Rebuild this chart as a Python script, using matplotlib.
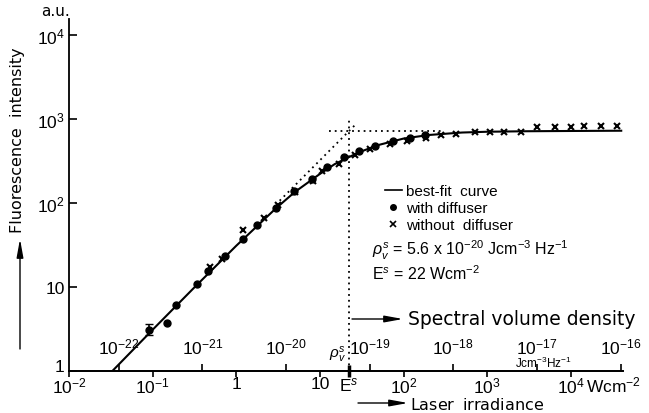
import numpy as np
import matplotlib
matplotlib.use('Agg')
import matplotlib.pyplot as plt
from matplotlib.lines import Line2D

plt.rcParams['font.family'] = ['Liberation Sans', 'DejaVu Sans']
plt.rcParams['mathtext.fontset'] = 'custom'
plt.rcParams['mathtext.rm'] = 'Liberation Sans'
plt.rcParams['mathtext.it'] = 'Liberation Sans:italic'
plt.rcParams['mathtext.bf'] = 'Liberation Sans:bold'

# saturation parameters
E_SAT = 22.0          # W cm^-2
RHO_SAT = 5.6e-20     # J cm^-3 Hz^-1
I_SAT = 710.0         # a.u., level of the horizontal asymptote

# with diffuser (filled circles)
e_with = [0.091, 0.15, 0.19, 0.338, 0.453, 0.724, 1.21, 1.75, 2.99, 4.95,
          8.06, 12.3, 19.3, 29.2, 45, 74.5, 120, 182]
i_with = [3.1, 3.7, 6.1, 10.9, 15.5, 23.4, 36.9, 54.5, 87.7, 138,
          191, 269, 353, 416, 472, 542, 599, 650]

# without diffuser (crosses)
e_without = [0.48, 0.674, 1.21, 2.15, 3.18, 5.1, 8.3, 10.6, 16.8, 26.6,
             39.2, 69.6, 111, 183, 283, 428, 708, 1070, 1590, 2500,
             3890, 6450, 9900, 14450, 22700, 35900]
i_without = [17.5, 21.5, 47.5, 67, 94, 135, 185, 238, 289, 369,
             444, 499, 542, 600, 638, 668, 700, 700, 700, 700,
             800, 800, 805, 815, 815, 830]

# best-fit curve
e_fit = [0.033, 0.1, 0.3, 1, 3, 5, 10, 15, 22, 30, 50, 100, 200, 500,
         1000, 3000, 10000, 40000]
i_fit = [1.0, 3.1, 9.4, 31, 87, 135, 222, 290, 350, 405, 490, 585, 645,
         690, 705, 715, 720, 725]

# error bar on the first point
err_e = [0.091]
err_i = [3.1]
err_lo = [0.45]
err_hi = [0.5]

# asymptotes (dotted)
diag_e = [3.3, 27]
horiz_e = [13, 300]
vert_i = [1, 1070]

x_ticks = [1e-2, 1e-1, 1, 10, 1e2, 1e3, 1e4]
x_labels = ['10$^{-2}$', '10$^{-1}$', '1', '10', '10$^2$', '10$^3$', '10$^4$']
y_ticks = [1, 10, 1e2, 1e3, 1e4]
y_labels = ['1', '10', '10$^2$', '10$^3$', '10$^4$']
rho_ticks = [1e-22, 1e-21, 1e-20, 1e-19, 1e-18, 1e-17, 1e-16]
rho_labels = ['10$^{-22}$', '10$^{-21}$', '10$^{-20}$', '10$^{-19}$',
              '10$^{-18}$', '10$^{-17}$', '10$^{-16}$']

K = RHO_SAT / E_SAT


def e2rho(e):
    return np.asarray(e) * K


def rho2e(r):
    return np.asarray(r) / K


fig = plt.figure(figsize=(6.49, 4.14), dpi=100)
ax = fig.add_axes([69 / 649, 1 - 372 / 414, 554 / 649, 352 / 414])
ax.set_xscale('log')
ax.set_yscale('log')
ax.set_xlim(1e-2, 4.2e4)
ax.set_ylim(1, 1.55e4)

for s in ['top', 'right']:
    ax.spines[s].set_visible(False)
for s in ['left', 'bottom']:
    ax.spines[s].set_linewidth(1.3)

# curve and data
ax.plot(e_fit, i_fit, color='black', lw=1.5, zorder=3)
ax.plot(e_with, i_with, 'o', color='black', ms=5, zorder=4)
ax.plot(e_without, i_without, 'x', color='black', ms=5, mew=1.5, zorder=4)
ax.errorbar(err_e, err_i, yerr=[err_lo, err_hi], fmt='none', ecolor='black',
            elinewidth=1.2, capsize=3, zorder=4)

dots = dict(color='black', lw=1.3, ls=(0, (1, 2.2)), zorder=2)
ax.plot(diag_e, [I_SAT * e / E_SAT for e in diag_e], **dots)
ax.plot(horiz_e, [I_SAT, I_SAT], **dots)
ax.plot([E_SAT, E_SAT], vert_i, **dots)

# axes ticks
ax.set_yticks(y_ticks, y_labels)
ax.yaxis.set_minor_locator(matplotlib.ticker.NullLocator())
ax.tick_params(axis='y', which='major', direction='in', length=6, width=1.2,
               labelsize=12.5, pad=3)
ax.get_yticklabels()[0].set_va('baseline')
ax.set_xticks(x_ticks, x_labels)
ax.set_xticks([E_SAT], ['E$^s$'], minor=True)
ax.tick_params(axis='x', which='major', direction='out', length=4, width=1.2,
               labelsize=12.5, pad=-0.5)
ax.tick_params(axis='x', which='minor', direction='inout', length=9, width=2.5,
               labelsize=12.5, pad=-1.5)

# spectral volume density scale on the same line
sec = ax.secondary_xaxis(0, functions=(e2rho, rho2e))
sec.set_alignment('top')
sec.set_xticks(rho_ticks, rho_labels)
sec.xaxis.set_minor_locator(matplotlib.ticker.NullLocator())
sec.tick_params(axis='x', which='major', direction='out', length=5, width=1.2,
                labelsize=12.5, pad=5.5)
sec.spines['top'].set_linewidth(1.3)
sec.get_xticklabels()[0].set_bbox(dict(fc='white', ec='none', pad=0.5))

trans = matplotlib.transforms.blended_transform_factory(ax.transData, ax.transAxes)
ax.annotate('$\\rho_v^s$', xy=(E_SAT, 0), xycoords=trans, xytext=(-2, 5),
            textcoords='offset points', ha='right', va='bottom', fontsize=11)
ax.annotate('Jcm$^{-3}$Hz$^{-1}$', xy=(rho2e(1e-17), 0), xycoords=trans,
            xytext=(5, 0.8), textcoords='offset points', ha='center',
            va='bottom', fontsize=8.5)
ax.annotate('Wcm$^{-2}$', xy=(1e4, 0), xycoords=trans, xytext=(11, -2.5),
            textcoords='offset points', ha='left', va='top', fontsize=12.5)

# legend block
handles = [Line2D([], [], color='black', lw=1.2),
           Line2D([], [], marker='o', ls='none', color='black', ms=4),
           Line2D([], [], marker='x', ls='none', color='black', ms=4, mew=1.2)]
ax.legend(handles, ['best-fit  curve', 'with diffuser', 'without  diffuser'],
          loc='upper left', bbox_to_anchor=(385 / 649, 1 - 185 / 414),
          bbox_transform=fig.transFigure, frameon=False, fontsize=11,
          handlelength=1.1, handletextpad=0.3, labelspacing=0.2,
          borderpad=0, borderaxespad=0)
fig.text(372 / 649, 1 - 250 / 414,
         '$\\rho_v^s$ = 5.6 x 10$^{-20}$ Jcm$^{-3}$ Hz$^{-1}$',
         fontsize=11.5, va='center', ha='left')
fig.text(372 / 649, 1 - 274 / 414, 'E$^s$ = 22 Wcm$^{-2}$',
         fontsize=11.5, va='center', ha='left')

# axis titles with arrows
fig.text(18 / 649, 1 - 140 / 414, 'Fluorescence  intensity', rotation=90,
         fontsize=11.5, ha='center', va='center', family='DejaVu Sans')
fig.text(56 / 649, 1 - 11 / 414, 'a.u.', fontsize=11, ha='center', va='center',
         family='DejaVu Sans')
arrow = dict(arrowstyle='-|>,head_length=1.1,head_width=0.2', color='black',
             lw=1.0, shrinkA=0, shrinkB=0)
ax.annotate('', xy=(20 / 649, 1 - 240 / 414), xycoords='figure fraction',
            xytext=(20 / 649, 1 - 350 / 414), textcoords='figure fraction',
            arrowprops=arrow)
fig.text(408 / 649, 1 - 320 / 414, 'Spectral volume density', fontsize=13.5,
         ha='left', va='center', family='DejaVu Sans')
ax.annotate('', xy=(403 / 649, 1 - 320 / 414), xycoords='figure fraction',
            xytext=(352 / 649, 1 - 320 / 414), textcoords='figure fraction',
            arrowprops=arrow)
fig.text(410 / 649, 1 - 410.5 / 414, '$\\mathregular{Laser\\ \\ irradiance}$',
         fontsize=11.5, ha='left', va='baseline', family='DejaVu Sans')
ax.annotate('', xy=(408 / 649, 1 - 404 / 414), xycoords='figure fraction',
            xytext=(358 / 649, 1 - 404 / 414), textcoords='figure fraction',
            arrowprops=arrow)

fig.savefig('out.png', dpi=100)
